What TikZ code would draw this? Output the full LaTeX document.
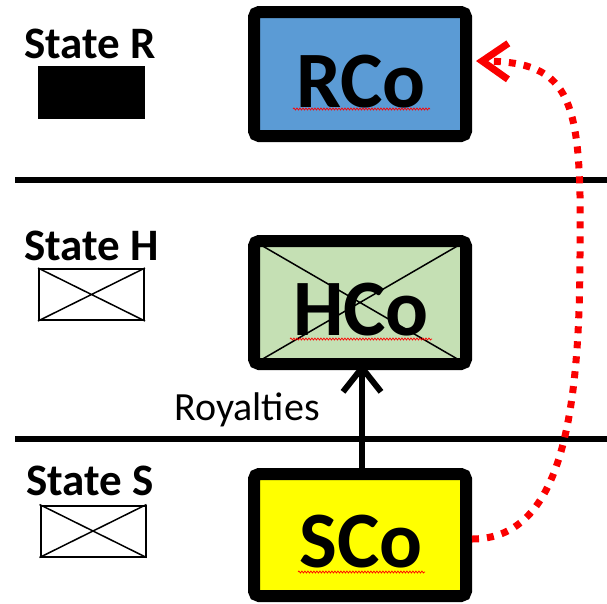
\documentclass[tikz,border=0pt]{standalone}
\usepackage{fontspec}
\setmainfont{Carlito}
\usetikzlibrary{arrows.meta,decorations.pathmorphing}
\definecolor{rblue}{RGB}{91,155,213}
\definecolor{hgreen}{RGB}{197,224,180}
\definecolor{syellow}{RGB}{255,255,0}
\definecolor{dred}{RGB}{250,0,0}
\tikzset{
  cobox/.style={draw=black, line width=12pt, rounded corners=5pt, minimum width=212pt, minimum height=123pt, inner sep=0pt},
  cotext/.style={anchor=base, inner sep=0pt, font=\fontsize{80}{90}\selectfont\bfseries},
  statetext/.style={anchor=base west, inner sep=0pt, font=\fontsize{45}{52}\selectfont\bfseries},
  legendbox/.style={draw=black, line width=2pt, minimum width=105pt, minimum height=51pt, inner sep=0pt},
  divider/.style={line width=6pt},
  spell/.style={draw=red, line width=0.7pt, decorate, decoration={snake, amplitude=1pt, segment length=3pt}},
  flow/.style={line width=6pt, -{Straight Barb[length=24pt,width=38pt,line width=6pt]}},
  redflow/.style={dred, line width=7pt, dash pattern=on 7pt off 8pt, -{Straight Barb[length=26pt,width=36pt,line width=7pt]}}
}
\begin{document}
\begin{tikzpicture}[x=1pt,y=-1pt]
\useasboundingbox (0,0) rectangle (607,603);
% dividers
\coordinate (d1a) at (15,180); \coordinate (d1b) at (607,180);
\coordinate (d2a) at (15,439); \coordinate (d2b) at (607,439);
\draw[divider] (d1a) -- (d1b);
\draw[divider] (d2a) -- (d2b);
% state labels and legend boxes
\node[statetext] (sr) at (24,58) {State R};
\node[statetext] (sh) at (24,260) {State H};
\node[statetext] (ss) at (26,495) {State S};
\node[legendbox, fill=black] (lr) at (91.5,92) {};
\node[legendbox] (lh) at (91.5,294.5) {};
\draw[line width=1.5pt] (lh.north west) -- (lh.south east) (lh.south west) -- (lh.north east);
\node[legendbox] (ls) at (93,531) {};
\draw[line width=1.5pt] (ls.north west) -- (ls.south east) (ls.south west) -- (ls.north east);
% company boxes
\node[cobox, fill=rblue, minimum height=124pt] (rco) at (360,74) {};
\node[cobox, fill=hgreen] (hco) at (360,302.5) {};
\draw[line width=1.5pt] ([shift={(6pt,-6pt)}]hco.north west) -- ([shift={(-6pt,6pt)}]hco.south east)
  ([shift={(6pt,6pt)}]hco.south west) -- ([shift={(-6pt,-6pt)}]hco.north east);
\node[cobox, fill=syellow, minimum height=122pt] (sco) at (360,535) {};
\node[cotext] (rcot) at (361,107) {RCo};
\node[cotext] (hcot) at (361,335) {HCo};
\node[cotext] (scot) at (361,567) {SCo};
\coordinate (u1a) at (293,109); \coordinate (u1b) at (430,109);
\coordinate (u2a) at (290,339); \coordinate (u2b) at (432,339);
\coordinate (u3a) at (298,572); \coordinate (u3b) at (425,572);
\path[spell] (u1a) -- (u1b);
\path[spell] (u2a) -- (u2b);
\path[spell] (u3a) -- (u3b);
% royalties arrow
\draw[flow, shorten >=-7pt] ([xshift=2pt]sco.north) -- ([xshift=2pt]hco.south);
\node[anchor=base west, inner sep=0pt, font=\fontsize{40}{46}\selectfont] (roy) at (174,420) {Royalties};
% red dotted arrow
\draw[redflow] ([yshift=-4pt]sco.east) .. controls (560,539) and (580,420) .. (580,250)
  .. controls (582,100) and (572,62) .. ([xshift=4pt,yshift=13pt]rco.east);
\end{tikzpicture}
\end{document}
